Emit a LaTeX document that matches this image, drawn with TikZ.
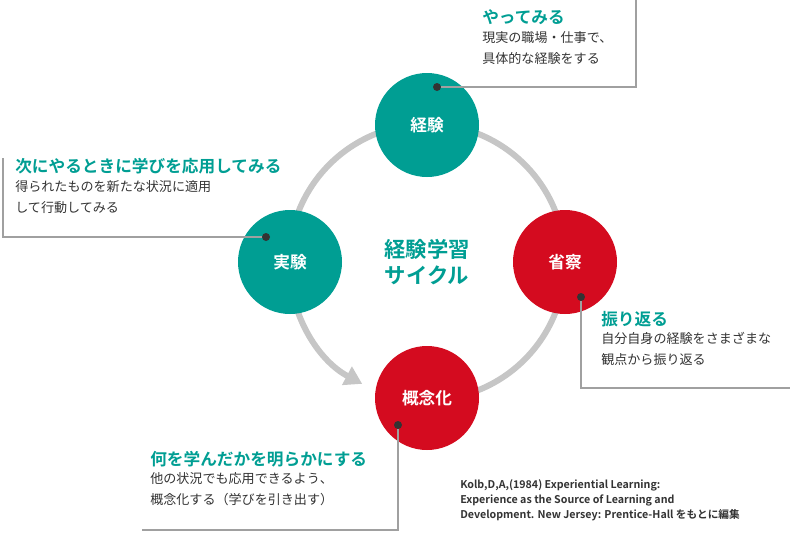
\documentclass[tikz,border=0pt]{standalone}
\usepackage{fontspec}
\setmainfont{Noto Sans CJK JP}
\newfontfamily\boldcjk{Noto Sans CJK JP Bold}
\usepackage{tikz}
\usetikzlibrary{arrows.meta,positioning}
\definecolor{teal0}{HTML}{009E93}
\definecolor{red0}{HTML}{D40B1F}
\definecolor{ring}{HTML}{C6C6C6}
\definecolor{txt}{HTML}{333333}
\definecolor{frame}{HTML}{A0A0A0}
\tikzset{
  stage/.style={circle,minimum size=78pt,inner sep=0pt,text=white,font=\boldcjk\fontsize{12.5}{14}\selectfont},
  head/.style={anchor=west,inner sep=0pt,text=teal0,font=\boldcjk\fontsize{12.5}{14}\selectfont},
  body/.style={anchor=north west,inner sep=0pt,text=txt,align=left,font=\fontsize{9.8}{16}\selectfont},
  callout/.style={frame,line width=0.8pt},
  dot/.style={circle,fill=txt,inner sep=0pt,minimum size=6pt}
}
\begin{document}
\begin{tikzpicture}[x=0.75pt,y=-0.75pt]
  \useasboundingbox (0,0) rectangle (790,554);
  % ring
  \coordinate (c) at (427,262);
  \draw[ring,line width=4.5pt] (c) ++(0:138) arc[start angle=0,end angle=-180,radius=138];
  \draw[ring,line width=4.5pt] (c) ++(90:138) arc[start angle=90,end angle=0,radius=138];
  \draw[ring,line width=4.5pt,-{Triangle[length=13pt,width=15pt]}] (c) ++(180:138) arc[start angle=180,end angle=118,radius=138];

  \node[stage,fill=teal0] (exp) at (427,125) {経験};
  \node[stage,fill=red0] (refl) at (565,262) {省察};
  \node[stage,fill=red0] (conc) at (427,398) {概念化};
  \node[stage,fill=teal0] (test) at (290,262) {実験};
  \node[align=center,text=teal0,font=\boldcjk\fontsize{16}{19}\selectfont] (title) at (427,262) {経験学習\\サイクル};

  % callouts
  \node[dot] (d1) at (437,87) {};
  \draw[callout] (d1) -- (636,87) -- (636,0);
  \node[head] (h1) at (482,17) {やってみる};
  \node[body] (b1) at (482,31) {現実の職場・仕事で、\\具体的な経験をする};

  \node[dot] (d2) at (266,237) {};
  \draw[callout] (d2) -- (3,237) -- (3,158);
  \node[head] (h2) at (15,166) {次にやるときに学びを応用してみる};
  \node[body] (b2) at (15,180) {得られたものを新たな状況に適用\\して行動してみる};

  \node[dot] (d3) at (581,297) {};
  \draw[callout] (d3) -- (581,388) -- (790,388);
  \node[head] (h3) at (601,319) {振り返る};
  \node[body] (b3) at (601,332) {自分自身の経験をさまざまな\\観点から振り返る};

  \node[dot] (d4) at (398,425) {};
  \draw[callout] (d4) -- (398,530) -- (142,530);
  \node[head] (h4) at (150,459) {何を学んだかを明らかにする};
  \node[body] (b4) at (150,472) {他の状況でも応用できるよう、\\概念化する（学びを引き出す）};

  \node[anchor=north west,inner sep=0pt,align=left,text=txt,font=\boldcjk\fontsize{8}{11.3}\selectfont] (ref) at (460,479)
    {Kolb,D,A,(1984) Experiential Learning:\\Experience as the Source of Learning and\\Development. New Jersey: Prentice-Hall をもとに編集};
\end{tikzpicture}
\end{document}
